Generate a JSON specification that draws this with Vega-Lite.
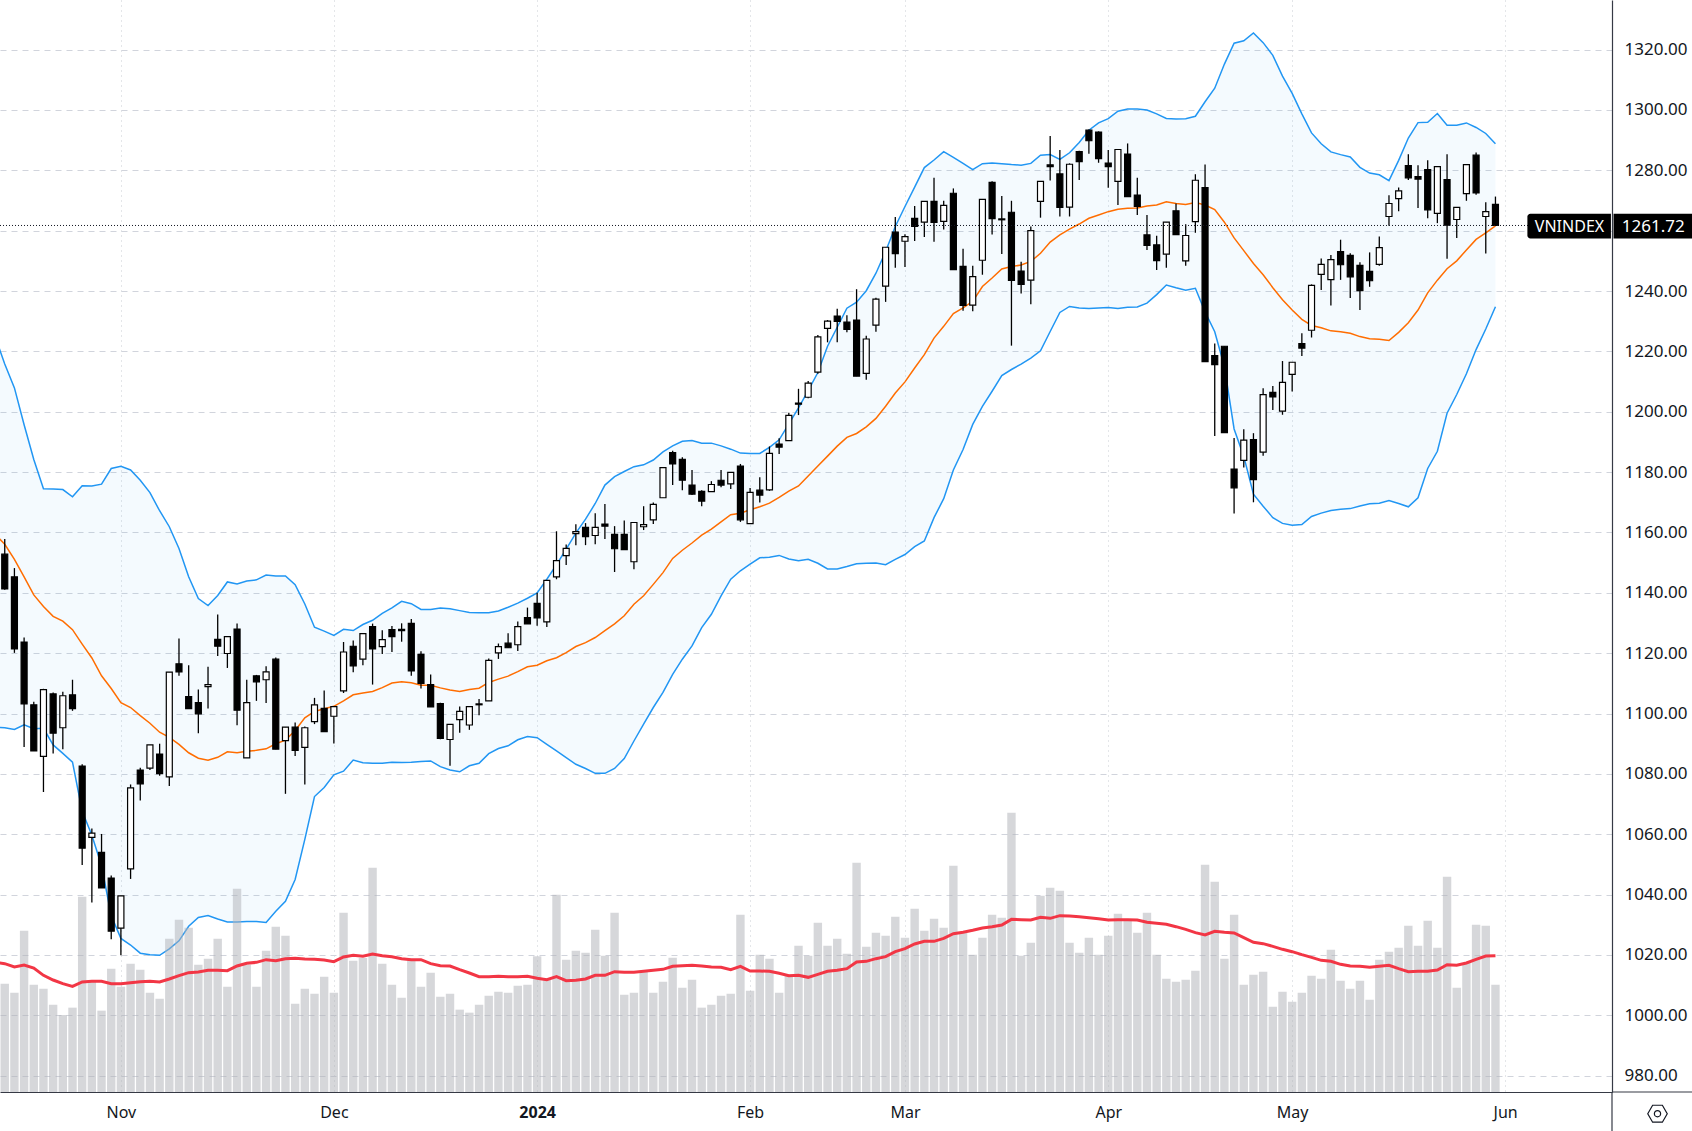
{
  "$schema": "https://vega.github.io/schema/vega-lite/v6.json",
  "width": 1612,
  "height": 1092,
  "autosize": "none",
  "padding": {"left": 0, "top": 0, "right": 80, "bottom": 39},
  "background": "#ffffff",
  "config": {"view": {"stroke": null}, "font": "Noto Sans"},
  "data": {"values": [
    {"i":-13,"m":389,"u":1225,"b":1159.4,"d":1095.4},
    {"i":-12,"o":1152.8,"h":1157.8,"l":1141,"c":1141.3,"v":325,"m":385,"u":1215.8,"b":1156.1,"d":1095.3},
    {"i":-11,"o":1145.3,"h":1148.2,"l":1120.1,"c":1121.4,"v":298,"m":375,"u":1207.9,"b":1151.1,"d":1094.7},
    {"i":-10,"o":1123.7,"h":1125.2,"l":1088.9,"c":1103.2,"v":484,"m":381,"u":1195.7,"b":1145.3,"d":1096.3},
    {"i":-9,"o":1102.9,"h":1103.9,"l":1087.6,"c":1087.6,"v":322,"m":372,"u":1184.2,"b":1139.3,"d":1095},
    {"i":-8,"o":1085.8,"h":1108.2,"l":1074,"c":1107.9,"v":310,"m":350,"u":1174.5,"b":1135.5,"d":1095.1},
    {"i":-7,"o":1106.5,"h":1107,"l":1086.8,"c":1093.5,"v":262,"m":336,"u":1174.4,"b":1132.2,"d":1089.6},
    {"i":-6,"o":1095.3,"h":1107.2,"l":1088.2,"c":1105.9,"v":231,"m":325,"u":1174.2,"b":1130.6,"d":1086.8},
    {"i":-5,"o":1106.2,"h":1111.2,"l":1100.9,"c":1101.6,"v":253,"m":317,"u":1171.8,"b":1127.8,"d":1083.9},
    {"i":-4,"o":1082.6,"h":1083.2,"l":1049.8,"c":1055.4,"v":586,"m":330,"u":1175.5,"b":1123,"d":1067.6},
    {"i":-3,"o":1059,"h":1061.9,"l":1037.4,"c":1060.4,"v":332,"m":332,"u":1175.4,"b":1118.4,"d":1059.7},
    {"i":-2,"o":1054,"h":1060.1,"l":1042.2,"c":1042.2,"v":244,"m":332,"u":1176,"b":1112.5,"d":1049.6},
    {"i":-1,"o":1045.5,"h":1046.3,"l":1025.2,"c":1027.9,"v":370,"m":325,"u":1181.2,"b":1108.3,"d":1033},
    {"i":0,"o":1028.9,"h":1039.6,"l":1019.9,"c":1039.6,"v":316,"m":325,"u":1181.9,"b":1103.6,"d":1025.5},
    {"i":1,"o":1048.5,"h":1076.5,"l":1045.2,"c":1075.4,"v":385,"m":328,"u":1180.7,"b":1102,"d":1023.3},
    {"i":2,"o":1081.3,"h":1082,"l":1071.2,"c":1076.7,"v":367,"m":331,"u":1177.3,"b":1099.3,"d":1020.6},
    {"i":3,"o":1081.9,"h":1089.6,"l":1081.3,"c":1089.6,"v":298,"m":332,"u":1173.2,"b":1096.8,"d":1020.1},
    {"i":4,"o":1086.6,"h":1090,"l":1079.4,"c":1080.1,"v":280,"m":330,"u":1167.2,"b":1093.8,"d":1019.9},
    {"i":5,"o":1079,"h":1113.7,"l":1076,"c":1113.7,"v":460,"m":339,"u":1161.9,"b":1092.1,"d":1022},
    {"i":6,"o":1116.5,"h":1124.9,"l":1112.5,"c":1113.8,"v":517,"m":349,"u":1154.7,"b":1089.8,"d":1024.7},
    {"i":7,"o":1105.6,"h":1116,"l":1101.6,"c":1101.6,"v":493,"m":358,"u":1145.3,"b":1087,"d":1029.5},
    {"i":8,"o":1103.6,"h":1108,"l":1093.5,"c":1099.9,"v":382,"m":360,"u":1138.1,"b":1085.2,"d":1032.4},
    {"i":9,"o":1108.9,"h":1115.5,"l":1101.7,"c":1109.6,"v":400,"m":365,"u":1135.8,"b":1084.5,"d":1033.1},
    {"i":10,"o":1124.6,"h":1132.8,"l":1119.1,"c":1122.3,"v":460,"m":365,"u":1139.1,"b":1085.5,"d":1031.9},
    {"i":11,"o":1119.9,"h":1125.6,"l":1115.1,"c":1125.5,"v":316,"m":364,"u":1143.6,"b":1087.3,"d":1030.9},
    {"i":12,"o":1128,"h":1129.8,"l":1096.1,"c":1101.1,"v":610,"m":378,"u":1142.9,"b":1087,"d":1030.9},
    {"i":13,"o":1085.3,"h":1111.2,"l":1085.3,"c":1103.6,"v":382,"m":386,"u":1143.9,"b":1087.5,"d":1031.1},
    {"i":14,"o":1112.5,"h":1112.8,"l":1104.2,"c":1110.5,"v":316,"m":389,"u":1144.3,"b":1087.8,"d":1031.1},
    {"i":15,"o":1111.2,"h":1115.7,"l":1103.5,"c":1113.8,"v":424,"m":397,"u":1145.9,"b":1088.3,"d":1030.8},
    {"i":16,"o":1118,"h":1118.6,"l":1088.2,"c":1088.2,"v":496,"m":394,"u":1145.6,"b":1090,"d":1034.5},
    {"i":17,"o":1091,"h":1095.5,"l":1073.4,"c":1095.5,"v":469,"m":400,"u":1145.6,"b":1091.2,"d":1037.8},
    {"i":18,"o":1095.5,"h":1097,"l":1085.9,"c":1087.8,"v":265,"m":401,"u":1142.7,"b":1094.4,"d":1045},
    {"i":19,"o":1088.8,"h":1095.7,"l":1076.5,"c":1095.3,"v":310,"m":399,"u":1136.3,"b":1098.6,"d":1058.3},
    {"i":20,"o":1097.3,"h":1105.2,"l":1096.5,"c":1102.9,"v":295,"m":398,"u":1128.6,"b":1100.7,"d":1072.5},
    {"i":21,"o":1101.7,"h":1107.6,"l":1094,"c":1094,"v":346,"m":396,"u":1127.3,"b":1101.6,"d":1075.5},
    {"i":22,"o":1099.1,"h":1102.3,"l":1090.1,"c":1102.3,"v":298,"m":391,"u":1125.9,"b":1102.4,"d":1079.7},
    {"i":23,"o":1107.5,"h":1123.7,"l":1106.8,"c":1120.4,"v":538,"m":405,"u":1127.9,"b":1104.2,"d":1080.9},
    {"i":24,"o":1122.3,"h":1124.2,"l":1113.7,"c":1115.8,"v":394,"m":410,"u":1127.5,"b":1106.2,"d":1084.6},
    {"i":25,"o":1118,"h":1126.5,"l":1116,"c":1126.5,"v":402,"m":407,"u":1129.5,"b":1106.8,"d":1083.7},
    {"i":26,"o":1128.8,"h":1129.8,"l":1109.6,"c":1121.4,"v":673,"m":414,"u":1130.9,"b":1107.3,"d":1083.5},
    {"i":27,"o":1122.2,"h":1127.6,"l":1119.7,"c":1124.5,"v":385,"m":409,"u":1133.2,"b":1108.6,"d":1083.5},
    {"i":28,"o":1127.8,"h":1129,"l":1120.4,"c":1125.5,"v":322,"m":406,"u":1135,"b":1110.1,"d":1083.9},
    {"i":29,"o":1127.9,"h":1129.9,"l":1123.8,"c":1127.5,"v":283,"m":400,"u":1137.2,"b":1110.5,"d":1083.8},
    {"i":30,"o":1129.9,"h":1131.3,"l":1112.5,"c":1114.1,"v":397,"m":397,"u":1136.4,"b":1110.2,"d":1083.9},
    {"i":31,"o":1119.6,"h":1120.6,"l":1108.3,"c":1110,"v":316,"m":397,"u":1134.5,"b":1109.4,"d":1084.1},
    {"i":32,"o":1109.6,"h":1112.9,"l":1102.2,"c":1102.2,"v":358,"m":385,"u":1134.5,"b":1109.4,"d":1084.3},
    {"i":33,"o":1103.3,"h":1103.6,"l":1091.5,"c":1091.8,"v":286,"m":379,"u":1135,"b":1108.5,"d":1082.4},
    {"i":34,"o":1091.4,"h":1096.4,"l":1082.7,"c":1096.4,"v":295,"m":378,"u":1134.7,"b":1107.8,"d":1081.3},
    {"i":35,"o":1098,"h":1102.3,"l":1093.6,"c":1100.7,"v":247,"m":367,"u":1134.1,"b":1107.3,"d":1080.7},
    {"i":36,"o":1096.2,"h":1102.3,"l":1094.6,"c":1102.3,"v":238,"m":357,"u":1133.5,"b":1108,"d":1082.7},
    {"i":37,"o":1103.2,"h":1104.8,"l":1099.4,"c":1102.9,"v":262,"m":346,"u":1133.4,"b":1108.4,"d":1083.5},
    {"i":38,"o":1104.2,"h":1118.2,"l":1104.2,"c":1117.6,"v":289,"m":346,"u":1133.4,"b":1110.3,"d":1086.7},
    {"i":39,"o":1120.1,"h":1123.2,"l":1118.1,"c":1122.2,"v":301,"m":347,"u":1134,"b":1111.4,"d":1088.4},
    {"i":40,"o":1123.3,"h":1126.6,"l":1121.8,"c":1121.8,"v":298,"m":346,"u":1135.2,"b":1112.4,"d":1089.3},
    {"i":41,"o":1122.8,"h":1130.5,"l":1120.7,"c":1128.8,"v":319,"m":346,"u":1136.6,"b":1113.9,"d":1091.3},
    {"i":42,"o":1131.8,"h":1135.1,"l":1129.7,"c":1129.7,"v":322,"m":347,"u":1138.2,"b":1115.5,"d":1092.4},
    {"i":43,"o":1136.5,"h":1140,"l":1129.1,"c":1131.7,"v":407,"m":341,"u":1140,"b":1116,"d":1092},
    {"i":44,"o":1130.4,"h":1144.1,"l":1128.7,"c":1144.1,"v":337,"m":337,"u":1144.5,"b":1117.5,"d":1089.8},
    {"i":45,"o":1145.3,"h":1160.4,"l":1144.5,"c":1150.7,"v":592,"m":346,"u":1149.3,"b":1118.5,"d":1087.6},
    {"i":46,"o":1152.3,"h":1156,"l":1149.2,"c":1154.7,"v":397,"m":334,"u":1154.5,"b":1120.2,"d":1085.4},
    {"i":47,"o":1159.6,"h":1162.7,"l":1155.8,"c":1160.3,"v":424,"m":335,"u":1159.8,"b":1122.2,"d":1083.2},
    {"i":48,"o":1161.7,"h":1163.1,"l":1155.8,"c":1158.6,"v":418,"m":339,"u":1164.4,"b":1123.5,"d":1081.8},
    {"i":49,"o":1159,"h":1166.4,"l":1156.1,"c":1161.7,"v":487,"m":350,"u":1169.6,"b":1125.2,"d":1080.2},
    {"i":50,"o":1162.8,"h":1169.4,"l":1157.8,"c":1162.1,"v":409,"m":350,"u":1175.7,"b":1127.5,"d":1080.2},
    {"i":51,"o":1159.4,"h":1162.1,"l":1146.9,"c":1154.6,"v":538,"m":361,"u":1178.5,"b":1129.7,"d":1081.8},
    {"i":52,"o":1159.4,"h":1164,"l":1154.3,"c":1154.3,"v":292,"m":359,"u":1180.2,"b":1132.4,"d":1085.1},
    {"i":53,"o":1150.3,"h":1163.3,"l":1147.8,"c":1163.3,"v":298,"m":359,"u":1181.8,"b":1136.2,"d":1090.9},
    {"i":54,"o":1161.9,"h":1168.7,"l":1160.8,"c":1162.6,"v":361,"m":362,"u":1182.4,"b":1139,"d":1096.5},
    {"i":55,"o":1164.2,"h":1169.9,"l":1162.8,"c":1169.3,"v":298,"m":365,"u":1184,"b":1142.8,"d":1102},
    {"i":56,"o":1171.5,"h":1181.5,"l":1171.5,"c":1181.5,"v":331,"m":368,"u":1186.7,"b":1146.7,"d":1107},
    {"i":57,"o":1186.5,"h":1187.1,"l":1175.7,"c":1182.7,"v":403,"m":377,"u":1188.7,"b":1151.4,"d":1113},
    {"i":58,"o":1184.2,"h":1184.9,"l":1174,"c":1177.3,"v":313,"m":379,"u":1190.2,"b":1154.1,"d":1118},
    {"i":59,"o":1175.7,"h":1180.7,"l":1172.4,"c":1172.7,"v":337,"m":380,"u":1190.5,"b":1156.5,"d":1122.4},
    {"i":60,"o":1173.6,"h":1174,"l":1168.7,"c":1170.4,"v":253,"m":378,"u":1189.6,"b":1159.1,"d":1128.5},
    {"i":61,"o":1173.5,"h":1177,"l":1173.5,"c":1175.9,"v":262,"m":375,"u":1189.6,"b":1161.1,"d":1132.9},
    {"i":62,"o":1177.3,"h":1180.7,"l":1175,"c":1175.7,"v":289,"m":374,"u":1188.7,"b":1163.5,"d":1139},
    {"i":63,"o":1176.1,"h":1179.9,"l":1174.4,"c":1179.9,"v":295,"m":367,"u":1187.6,"b":1165.9,"d":1144.5},
    {"i":64,"o":1182,"h":1182.7,"l":1163.5,"c":1164.2,"v":532,"m":377,"u":1186.3,"b":1166.4,"d":1147.3},
    {"i":65,"o":1162.9,"h":1174.7,"l":1162.9,"c":1173.3,"v":304,"m":363,"u":1186.2,"b":1167.5,"d":1149.5},
    {"i":66,"o":1174,"h":1178.3,"l":1169.9,"c":1172.4,"v":412,"m":363,"u":1186.2,"b":1168.5,"d":1151.6},
    {"i":67,"o":1174.1,"h":1188.5,"l":1173.8,"c":1186.2,"v":400,"m":362,"u":1188.2,"b":1169.7,"d":1151.8},
    {"i":68,"o":1189.3,"h":1191.2,"l":1186,"c":1188.3,"v":298,"m":356,"u":1190.7,"b":1171.6,"d":1152.4},
    {"i":69,"o":1190.4,"h":1199.7,"l":1190.3,"c":1198.8,"v":352,"m":349,"u":1196,"b":1173.7,"d":1151.2},
    {"i":70,"o":1202.9,"h":1207.6,"l":1198.9,"c":1202.5,"v":439,"m":350,"u":1201.3,"b":1175.4,"d":1150.6},
    {"i":71,"o":1204.8,"h":1210.2,"l":1204.5,"c":1209.5,"v":409,"m":344,"u":1207,"b":1178.7,"d":1151.1},
    {"i":72,"o":1213.1,"h":1225.4,"l":1212.6,"c":1224.8,"v":508,"m":353,"u":1213,"b":1182,"d":1149.8},
    {"i":73,"o":1227.6,"h":1230.4,"l":1223,"c":1230,"v":439,"m":362,"u":1221.7,"b":1185.3,"d":1147.9},
    {"i":74,"o":1231.7,"h":1234.1,"l":1223,"c":1229.9,"v":460,"m":365,"u":1228,"b":1188.6,"d":1147.9},
    {"i":75,"o":1229.7,"h":1232,"l":1226.3,"c":1227.3,"v":415,"m":370,"u":1234.3,"b":1191.5,"d":1148.7},
    {"i":76,"o":1230.4,"h":1240.6,"l":1211.8,"c":1211.8,"v":688,"m":390,"u":1236.3,"b":1192.8,"d":1149.6},
    {"i":77,"o":1212.7,"h":1225.2,"l":1210.6,"c":1224.1,"v":436,"m":392,"u":1240.1,"b":1195,"d":1149.8},
    {"i":78,"o":1228.7,"h":1237.8,"l":1226.5,"c":1237.3,"v":478,"m":400,"u":1245.9,"b":1197.8,"d":1149.9},
    {"i":79,"o":1241.6,"h":1254.5,"l":1236.4,"c":1254.5,"v":469,"m":406,"u":1253.1,"b":1201.8,"d":1149.3},
    {"i":80,"o":1259.5,"h":1264.5,"l":1247.7,"c":1252.4,"v":526,"m":421,"u":1261.4,"b":1206.2,"d":1151.1},
    {"i":81,"o":1256.5,"h":1258.8,"l":1248,"c":1258,"v":463,"m":430,"u":1268,"b":1209.9,"d":1152.7},
    {"i":82,"o":1264.1,"h":1268.2,"l":1256.6,"c":1261.4,"v":550,"m":444,"u":1274.4,"b":1214.5,"d":1155.3},
    {"i":83,"o":1262.8,"h":1269.7,"l":1257.9,"c":1269.7,"v":484,"m":452,"u":1280.9,"b":1218.9,"d":1157.2},
    {"i":84,"o":1269.7,"h":1277.5,"l":1256.3,"c":1262.7,"v":520,"m":452,"u":1283.4,"b":1224.4,"d":1164.9},
    {"i":85,"o":1263.1,"h":1269.9,"l":1260.4,"c":1268.4,"v":493,"m":461,"u":1286.2,"b":1228.3,"d":1171.2},
    {"i":86,"o":1272.4,"h":1274,"l":1247.1,"c":1247.1,"v":679,"m":475,"u":1284.3,"b":1232.5,"d":1180.7},
    {"i":87,"o":1248.2,"h":1254,"l":1233.5,"c":1235.2,"v":477,"m":479,"u":1282.3,"b":1234.4,"d":1187.5},
    {"i":88,"o":1235.3,"h":1248.4,"l":1233.3,"c":1244.8,"v":412,"m":485,"u":1280.2,"b":1236.6,"d":1195.8},
    {"i":89,"o":1250.2,"h":1270.4,"l":1245.4,"c":1270.4,"v":463,"m":492,"u":1282.2,"b":1241.5,"d":1201.8},
    {"i":90,"o":1276,"h":1276.4,"l":1258.7,"c":1264,"v":532,"m":496,"u":1282.4,"b":1244.3,"d":1206.8},
    {"i":91,"o":1263.9,"h":1271.5,"l":1252.3,"c":1263.6,"v":523,"m":501,"u":1282.2,"b":1247.3,"d":1212},
    {"i":92,"o":1266.1,"h":1269.9,"l":1221.9,"c":1243.5,"v":838,"m":518,"u":1281.9,"b":1248.1,"d":1214},
    {"i":93,"o":1246.6,"h":1249.7,"l":1239.2,"c":1242.2,"v":409,"m":517,"u":1281.7,"b":1248.6,"d":1215.8},
    {"i":94,"o":1243.6,"h":1261.4,"l":1235.6,"c":1260,"v":448,"m":516,"u":1282.3,"b":1249.8,"d":1217.8},
    {"i":95,"o":1269.7,"h":1276.3,"l":1264.3,"c":1276.3,"v":589,"m":524,"u":1285,"b":1252.5,"d":1220.2},
    {"i":96,"o":1281.8,"h":1291.4,"l":1276.6,"c":1281.2,"v":613,"m":521,"u":1285.2,"b":1256.2,"d":1226.6},
    {"i":97,"o":1278.8,"h":1286.7,"l":1264.7,"c":1267.7,"v":604,"m":529,"u":1283.6,"b":1258.6,"d":1232.9},
    {"i":98,"o":1267.8,"h":1282.3,"l":1264.7,"c":1282,"v":448,"m":528,"u":1285.8,"b":1260.5,"d":1234.9},
    {"i":99,"o":1286.2,"h":1286.5,"l":1276.8,"c":1282.9,"v":418,"m":526,"u":1289.2,"b":1262.2,"d":1234.4},
    {"i":100,"o":1293.3,"h":1293.5,"l":1285.5,"c":1289.8,"v":463,"m":523,"u":1293.3,"b":1264.1,"d":1234.2},
    {"i":101,"o":1292.7,"h":1292.9,"l":1282.5,"c":1283.9,"v":412,"m":520,"u":1295.7,"b":1265.2,"d":1234.4},
    {"i":102,"o":1282.4,"h":1286.7,"l":1274.2,"c":1281.2,"v":469,"m":516,"u":1297.1,"b":1266.3,"d":1234.5},
    {"i":103,"o":1276.3,"h":1286.9,"l":1268.5,"c":1286.9,"v":535,"m":517,"u":1299.6,"b":1267.1,"d":1234.2},
    {"i":104,"o":1285.4,"h":1288.9,"l":1271.3,"c":1271.3,"v":517,"m":517,"u":1300.3,"b":1267.4,"d":1234.6},
    {"i":105,"o":1271.8,"h":1277.5,"l":1265.2,"c":1268,"v":478,"m":516,"u":1300.3,"b":1267.5,"d":1234.7},
    {"i":106,"o":1258.6,"h":1265.2,"l":1253.6,"c":1255.1,"v":538,"m":509,"u":1300,"b":1268.2,"d":1236},
    {"i":107,"o":1255.3,"h":1258.3,"l":1247,"c":1250.1,"v":412,"m":506,"u":1298.7,"b":1268.5,"d":1238.8},
    {"i":108,"o":1252.2,"h":1262.8,"l":1247.7,"c":1262.8,"v":340,"m":503,"u":1297.2,"b":1269.6,"d":1242},
    {"i":109,"o":1266.6,"h":1269,"l":1258.7,"c":1258.7,"v":331,"m":496,"u":1297,"b":1269,"d":1241.1},
    {"i":110,"o":1250,"h":1262.1,"l":1248.4,"c":1258.4,"v":337,"m":488,"u":1297.1,"b":1268.7,"d":1240.3},
    {"i":111,"o":1263,"h":1278.7,"l":1259.3,"c":1276.7,"v":364,"m":478,"u":1297.9,"b":1269.3,"d":1240.9},
    {"i":112,"o":1274.3,"h":1281.9,"l":1216.6,"c":1216.6,"v":682,"m":471,"u":1302.7,"b":1268.5,"d":1233.1},
    {"i":113,"o":1218.6,"h":1222.6,"l":1192,"c":1215.6,"v":631,"m":482,"u":1307.2,"b":1267,"d":1226.5},
    {"i":114,"o":1221.7,"h":1221.7,"l":1193.1,"c":1193.1,"v":400,"m":479,"u":1315.2,"b":1262.8,"d":1214.9},
    {"i":115,"o":1181,"h":1191.3,"l":1166.3,"c":1174.8,"v":532,"m":477,"u":1322.1,"b":1257.6,"d":1194.3},
    {"i":116,"o":1183.9,"h":1194.2,"l":1181.5,"c":1190.6,"v":322,"m":463,"u":1322.9,"b":1253.4,"d":1185.2},
    {"i":117,"o":1190.8,"h":1192.9,"l":1170,"c":1177.5,"v":352,"m":449,"u":1325.5,"b":1249.1,"d":1172.7},
    {"i":118,"o":1186.6,"h":1207.8,"l":1185.4,"c":1205.7,"v":361,"m":445,"u":1322.3,"b":1245.4,"d":1168.7},
    {"i":119,"o":1206.4,"h":1208.5,"l":1200.6,"c":1204.9,"v":256,"m":437,"u":1318.1,"b":1241.1,"d":1164.9},
    {"i":120,"o":1200.2,"h":1216.8,"l":1199,"c":1209.7,"v":301,"m":428,"u":1311.2,"b":1237.1,"d":1163},
    {"i":121,"o":1212.4,"h":1216.4,"l":1206.7,"c":1216.4,"v":271,"m":421,"u":1305.5,"b":1233.7,"d":1162.4},
    {"i":122,"o":1222.6,"h":1226,"l":1218.5,"c":1221.1,"v":298,"m":412,"u":1298.7,"b":1230.6,"d":1162.6},
    {"i":123,"o":1227,"h":1242.2,"l":1224.6,"c":1241.9,"v":349,"m":404,"u":1292.4,"b":1228.6,"d":1165.3},
    {"i":124,"o":1245.5,"h":1250.8,"l":1240.3,"c":1248.8,"v":340,"m":395,"u":1288.8,"b":1227.8,"d":1166.4},
    {"i":125,"o":1243.8,"h":1251.9,"l":1235.2,"c":1250.4,"v":427,"m":392,"u":1286.1,"b":1226.8,"d":1167.3},
    {"i":126,"o":1253.1,"h":1257,"l":1243.7,"c":1248.7,"v":334,"m":383,"u":1285.2,"b":1226.5,"d":1167.7},
    {"i":127,"o":1251.8,"h":1252.5,"l":1237.7,"c":1244.7,"v":310,"m":378,"u":1284.4,"b":1226,"d":1167.9},
    {"i":128,"o":1248.5,"h":1249.5,"l":1233.7,"c":1240.1,"v":334,"m":377,"u":1281,"b":1224.9,"d":1168.8},
    {"i":129,"o":1246.5,"h":1252.8,"l":1241.4,"c":1243.4,"v":277,"m":374,"u":1279.1,"b":1224.2,"d":1169.5},
    {"i":130,"o":1248.8,"h":1258.1,"l":1248.4,"c":1254.4,"v":397,"m":377,"u":1278.5,"b":1224,"d":1169.7},
    {"i":131,"o":1264.7,"h":1271.7,"l":1261.6,"c":1269,"v":421,"m":380,"u":1276.6,"b":1223.6,"d":1170.6},
    {"i":132,"o":1270.6,"h":1274.3,"l":1266.4,"c":1273.2,"v":433,"m":370,"u":1283.3,"b":1226.3,"d":1169.6},
    {"i":133,"o":1281.6,"h":1285.3,"l":1276.8,"c":1277.5,"v":499,"m":361,"u":1290.7,"b":1229.5,"d":1168.5},
    {"i":134,"o":1277.9,"h":1281.7,"l":1267.5,"c":1277.1,"v":439,"m":362,"u":1295.8,"b":1233.7,"d":1171.5},
    {"i":135,"o":1280.2,"h":1283.3,"l":1264.1,"c":1266.9,"v":514,"m":362,"u":1295.9,"b":1239.4,"d":1181.2},
    {"i":136,"o":1265.7,"h":1281.2,"l":1262.5,"c":1281.2,"v":433,"m":366,"u":1298.8,"b":1243.6,"d":1186.9},
    {"i":137,"o":1276.9,"h":1285.3,"l":1250.7,"c":1261.8,"v":646,"m":382,"u":1294.9,"b":1247.4,"d":1199.5},
    {"i":138,"o":1263.7,"h":1267.7,"l":1257.6,"c":1267.7,"v":313,"m":380,"u":1294.9,"b":1250,"d":1205.7},
    {"i":139,"o":1272.3,"h":1281.9,"l":1269.9,"c":1281.9,"v":387,"m":387,"u":1295.7,"b":1253.6,"d":1212.6},
    {"i":140,"o":1285,"h":1285.9,"l":1271.9,"c":1272.5,"v":502,"m":398,"u":1294.2,"b":1257.1,"d":1220.6},
    {"i":141,"o":1264.7,"h":1269.4,"l":1252.4,"c":1266.3,"v":499,"m":408,"u":1292.2,"b":1259.3,"d":1227.4},
    {"i":142,"o":1268.7,"h":1271.3,"l":1261.72,"c":1261.72,"v":322,"m":409,"u":1288.8,"b":1261.6,"d":1234.8}
  ]},
  "encoding": {
    "x": {
      "field": "i",
      "type": "quantitative",
      "scale": {"domain": [-12.49, 154.04], "nice": false, "zero": false, "padding": 0},
      "axis": {
        "title": null,
        "values": [0, 22, 43, 65, 81, 102, 121, 143],
        "labelExpr": "{'0':'Nov','22':'Dec','43':'2024','65':'Feb','81':'Mar','102':'Apr','121':'May','143':'Jun'}[datum.value] || ''",
        "labelFontSize": 16,
        "labelColor": "#131722",
        "labelPadding": 12,
        "labelFontWeight": {"condition": {"test": "datum.value == 43", "value": "bold"}, "value": "normal"},
        "labelOverlap": false,
        "labelFlush": false,
        "grid": true,
        "gridColor": "#c9ccd3",
        "gridDash": [1, 4],
        "gridWidth": 1,
        "domainColor": "#363a45",
        "domainWidth": 1.2,
        "ticks": false
      }
    }
  },
  "resolve": {"scale": {"y": "independent"}},
  "layer": [
    {
      "layer": [
        {
          "mark": {"type": "area", "color": "#2196f3", "opacity": 0.05, "clip": true},
          "encoding": {
            "y": {
              "field": "u",
              "type": "quantitative",
              "scale": {"domain": [974.6, 1336.43], "nice": false, "zero": false},
              "axis": {
                "title": null,
                "orient": "right",
                "values": [980, 1000, 1020, 1040, 1060, 1080, 1100, 1120, 1140, 1160, 1180, 1200, 1220, 1240, 1260, 1280, 1300, 1320],
                "labelExpr": "datum.value == 1260 ? '' : format(datum.value, '.2f')",
                "labelFontSize": 17,
                "labelColor": "#131722",
                "labelPadding": 12,
                "labelOverlap": false,
                "labelFlush": false,
                "grid": true,
                "gridColor": "#d1d4dc",
                "gridDash": [6, 5],
                "gridWidth": 1,
                "domainColor": "#363a45",
                "domainWidth": 1.2,
                "ticks": false
              }
            },
            "y2": {"field": "d"}
          }
        },
        {
          "mark": {"type": "line", "color": "#2196f3", "strokeWidth": 1.5, "clip": true},
          "encoding": {"y": {"field": "u", "type": "quantitative"}}
        },
        {
          "mark": {"type": "line", "color": "#2196f3", "strokeWidth": 1.5, "clip": true},
          "encoding": {"y": {"field": "d", "type": "quantitative"}}
        },
        {
          "mark": {"type": "line", "color": "#ff6d00", "strokeWidth": 1.5, "clip": true},
          "encoding": {"y": {"field": "b", "type": "quantitative"}}
        }
      ]
    },
    {
      "layer": [
        {
          "mark": {"type": "bar", "size": 8.4, "color": "#b0b2b8", "opacity": 0.52, "orient": "vertical"},
          "encoding": {
            "y": {"field": "v", "type": "quantitative", "scale": {"domain": [0, 3276], "nice": false}, "axis": null}
          }
        },
        {
          "mark": {"type": "line", "color": "#f23645", "strokeWidth": 3, "clip": true},
          "encoding": {"y": {"field": "m", "type": "quantitative"}}
        }
      ]
    },
    {
      "layer": [
        {
          "mark": {"type": "rule", "color": "#000000", "strokeWidth": 1.3},
          "encoding": {
            "y": {
              "field": "h",
              "type": "quantitative",
              "scale": {"domain": [974.6, 1336.43], "nice": false, "zero": false},
              "axis": null
            },
            "y2": {"field": "l"}
          }
        },
        {
          "mark": {"type": "bar", "size": 6, "stroke": "#000000", "strokeWidth": 1.2, "orient": "vertical"},
          "encoding": {
            "y": {"field": "o", "type": "quantitative"},
            "y2": {"field": "c"},
            "color": {"condition": {"test": "datum.c < datum.o", "value": "#000000"}, "value": "#ffffff"}
          }
        },
        {
          "transform": [{"filter": "datum.i == 142"}],
          "mark": {"type": "rule", "color": "#131722", "strokeWidth": 1, "strokeDash": [1, 2]},
          "encoding": {
            "x": {"datum": -12.49},
            "x2": {"datum": 145.5},
            "y": {"field": "c", "type": "quantitative"}
          }
        },
        {
          "transform": [{"filter": "datum.i == 142"}],
          "mark": {"type": "bar", "color": "#000000", "cornerRadiusTopLeft": 3, "cornerRadiusBottomLeft": 3},
          "encoding": {
            "x": {"datum": 145.3},
            "x2": {"datum": 153.93},
            "y": {"datum": 1265.6},
            "y2": {"datum": 1257.4}
          }
        },
        {
          "transform": [{"filter": "datum.i == 142"}],
          "mark": {"type": "bar", "color": "#000000"},
          "encoding": {
            "x": {"datum": 154.2},
            "x2": {"datum": 162.4},
            "y": {"datum": 1265.6},
            "y2": {"datum": 1257.4}
          }
        },
        {
          "transform": [{"filter": "datum.i == 142"}],
          "mark": {"type": "text", "color": "#ffffff", "fontSize": 16, "align": "center", "baseline": "middle"},
          "encoding": {
            "x": {"datum": 149.65},
            "y": {"datum": 1261.3},
            "text": {"value": "VNINDEX"}
          }
        },
        {
          "transform": [{"filter": "datum.i == 142"}],
          "mark": {"type": "text", "color": "#ffffff", "fontSize": 17, "align": "center", "baseline": "middle"},
          "encoding": {
            "x": {"datum": 158.3},
            "y": {"datum": 1261.3},
            "text": {"field": "c", "type": "quantitative", "format": ".2f"}
          }
        },
        {
          "transform": [{"filter": "datum.i == 142"}],
          "mark": {"type": "rule", "color": "#363a45", "strokeWidth": 1.2},
          "encoding": {
            "x": {"datum": 154.04},
            "x2": {"datum": 162.4},
            "y": {"datum": 974.6}
          }
        },
        {
          "transform": [{"filter": "datum.i == 142"}],
          "mark": {"type": "rule", "color": "#363a45", "strokeWidth": 1.2},
          "encoding": {
            "x": {"datum": 154.04},
            "y": {"datum": 974.6},
            "y2": {"datum": 961.7}
          }
        },
        {
          "transform": [{"filter": "datum.i == 142"}],
          "mark": {
            "type": "point",
            "shape": "M-1,0L-0.5,-0.87L0.5,-0.87L1,0L0.5,0.87L-0.5,0.87Z M0.32,0A0.32,0.32 0 1 1 -0.32,0A0.32,0.32 0 1 1 0.32,0",
            "size": 380,
            "filled": false,
            "stroke": "#131722",
            "strokeWidth": 1.2,
            "opacity": 1
          },
          "encoding": {
            "x": {"datum": 158.74},
            "y": {"datum": 967.4}
          }
        }
      ]
    }
  ]
}
